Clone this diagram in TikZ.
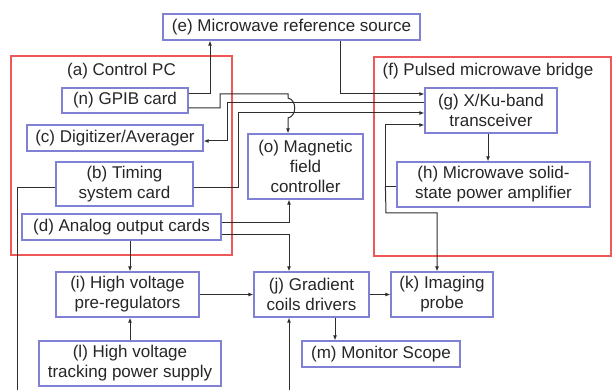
\documentclass[tikz,border=0pt]{standalone}
\usepackage{fontspec}
\setmainfont{Liberation Sans}
\usetikzlibrary{calc,arrows.meta}
\definecolor{boxblue}{RGB}{128,128,212}
\definecolor{groupred}{RGB}{238,88,88}
\definecolor{wirecol}{RGB}{45,45,45}

\begin{document}
\begin{tikzpicture}[x=1pt,y=-1pt,
    box/.style={draw=boxblue,line width=1.2pt,inner sep=0pt,align=center,text=black!85,font=\fontsize{17}{20}\selectfont},
    grouplabel/.style={inner sep=0pt,text=black!85,font=\fontsize{17}{20}\selectfont},
    group/.style={draw=groupred,line width=2.5pt},
    wire/.style={draw=wirecol,line width=1pt,-{Latex[length=5pt,width=4pt]}},
    plain/.style={draw=wirecol,line width=1pt}]
    \useasboundingbox (0,0) rectangle (613,390);

    \draw[group] (11,56) rectangle (232,255);
    \draw[group] (374,57) rectangle (611,256);
    \node[grouplabel] (alabel) at (121.5,71) {(a) Control PC};
    \node[grouplabel] (flabel) at (488,71)   {(f) Pulsed microwave bridge};

    \node[box,minimum width=257pt,minimum height=26pt] (e) at (291.5,27)  {(e) Microwave reference source};
    \node[box,minimum width=126pt,minimum height=25pt] (n) at (125,100.5) {(n) GPIB card};
    \node[box,minimum width=176pt,minimum height=26pt] (c) at (115,138)   {(c) Digitizer/Averager};
    \node[box,minimum width=137pt,minimum height=44pt] (b) at (124.5,184) {(b) Timing\\system card};
    \node[box,minimum width=199pt,minimum height=26pt] (d) at (121.5,227) {(d) Analog output cards};
    \node[box,minimum width=115pt,minimum height=65pt] (o) at (305.5,166.5) {(o) Magnetic\\field\\controller};
    \node[box,minimum width=132pt,minimum height=45pt] (g) at (491,110.5) {(g) X/Ku-band\\transceiver};
    \node[box,minimum width=193pt,minimum height=45pt] (h) at (493.5,184.5) {(h) Microwave solid-\\state power amplifier};
    \node[box,minimum width=143pt,minimum height=45pt] (i) at (127.5,294.5) {(i) High voltage\\pre-regulators};
    \node[box,minimum width=115pt,minimum height=45pt] (j) at (311.5,294.5) {(j) Gradient\\coils drivers};
    \node[box,minimum width=102pt,minimum height=45pt] (k) at (442,294.5)  {(k) Imaging\\probe};
    \node[box,minimum width=182pt,minimum height=45pt] (l) at (130,363.5)  {(l) High voltage\\tracking power supply};
    \node[box,minimum width=158pt,minimum height=26pt] (m) at (381,354)    {(m) Monitor Scope};

    \coordinate (hj)   at ($(h.west)+(-11,2.5)$);
    \coordinate (bot1) at (17,390);
    \coordinate (bot2) at (289,390);

    \draw[wire] ($(n.east)+(0,-6.5)$) -| ($(e.south)+(-81.5,0)$);
    \draw[wire] ($(e.south)+(48.5,0)$) |- ($(g.west)+(0,-16.5)$);
    \draw[wire] ($(n.east)+(0,7.5)$) -- (220,108) -- (220,94) -- (288,94) -- (288,98)
        .. controls (297,100) and (297,116) .. (288,118) -- ($(o.north)+(-17.5,0)$);
    \draw[wire] ($(g.west)+(0,-7.5)$) -- (227,103) |- ($(c.east)+(0,3)$);
    \draw[wire] ($(b.east)+(0,4)$) -- (238,188) |- ($(g.west)+(0,2.5)$);
    \draw[wire] ($(d.east)+(0,-4)$) -| ($(o.south)+(-16.5,0)$);
    \draw[wire] ($(d.east)+(0,8)$) -| ($(j.north)+(-22.5,0)$);
    \draw[wire] ($(d.south)+(8.5,0)$) -- ($(i.north)+(2.5,0)$);
    \draw[wire] (l.north) -- ($(i.south)+(2.5,0)$);
    \draw[wire] (i.east) -- (j.west);
    \draw[wire] (j.east) -- (k.west);
    \draw[wire] ($(j.south)+(23.5,0)$) -- ($(m.north)+(-46,0)$);
    \draw[wire] ($(g.south)+(-3,0)$) -- ($(h.north)+(-5.5,0)$);
    \draw[plain] ($(h.west)+(0,2.5)$) -- (hj);
    \draw[wire] (hj) |- ($(g.west)+(0,14.5)$);
    \draw[wire] (hj) -- (386,213) -| ($(k.north)+(-5,0)$);
    \draw[plain] ($(b.west)+(0,4)$) -| (bot1);
    \draw[wire] (bot2) -- ($(j.south)+(-22.5,0)$);
\end{tikzpicture}
\end{document}
